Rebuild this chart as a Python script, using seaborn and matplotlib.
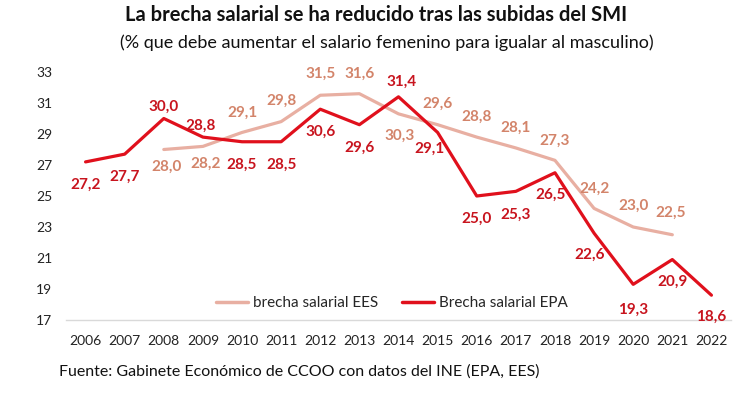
import matplotlib
matplotlib.use("Agg")
import matplotlib.pyplot as plt
import seaborn as sns
import pandas as pd
import numpy as np
from matplotlib.lines import Line2D

# ---- data ----
years_epa = [2006, 2007, 2008, 2009, 2010, 2011, 2012, 2013, 2014, 2015, 2016, 2017, 2018, 2019, 2020, 2021, 2022]
brecha_epa = [27.2, 27.7, 30.0, 28.8, 28.5, 28.5, 30.6, 29.6, 31.4, 29.1, 25.0, 25.3, 26.5, 22.6, 19.3, 20.9, 18.6]
years_ees = [2008, 2009, 2010, 2011, 2012, 2013, 2014, 2015, 2016, 2017, 2018, 2019, 2020, 2021]
brecha_ees = [28.0, 28.2, 29.1, 29.8, 31.5, 31.6, 30.3, 29.6, 28.8, 28.1, 27.3, 24.2, 23.0, 22.5]
y_ticks = [17, 19, 21, 23, 25, 27, 29, 31, 33]

title = "La brecha salarial se ha reducido tras las subidas del SMI"
subtitle = "(% que debe aumentar el salario femenino para igualar al masculino)"
source = "Fuente: Gabinete Económico de CCOO con datos del INE (EPA, EES)"
name_ees = "brecha salarial EES"
name_epa = "Brecha salarial EPA"

# label offsets (pixels)
off_epa = [(0, -23), (0, -23), (0, 12), (-2, 11), (0, -23), (0, -23), (0, -23), (0, -23), (3, 15),
           (-8, -16), (0, -23), (0, -23), (-4, -22), (-4, -22), (0, -25), (0, -22), (0, -22)]
off_ees = [(3, -17), (3, -17), (0, 20), (0, 21), (0, 21), (0, 20), (1, -22), (0, 21), (0, 20),
           (0, 20), (0, 20), (0, 20), (0, 21), (-2, 22)]

c_ees_line = "#E8AFA2"
c_ees_text = "#D3846A"
c_epa_line = "#E0101C"
c_epa_text = "#C8141E"

sns.set_theme(style="white")
plt.rcParams["font.family"] = ["Lato", "DejaVu Sans"]

df = pd.concat([
    pd.DataFrame({"year": years_ees, "value": brecha_ees, "serie": name_ees}),
    pd.DataFrame({"year": years_epa, "value": brecha_epa, "serie": name_epa}),
])

fig = plt.figure(figsize=(7.51, 3.99), dpi=100)
W, H = 751, 399
ax = fig.add_axes([66 / W, 79 / H, (731 - 66) / W, (320 - 72) / H])

sns.lineplot(data=df, x="year", y="value", hue="serie",
             palette={name_ees: c_ees_line, name_epa: c_epa_line},
             linewidth=2.3, ax=ax, legend=False, sort=False)

for x, y, (dx, dy) in zip(years_ees, brecha_ees, off_ees):
    ax.annotate(f"{y:.1f}".replace(".", ","), (x, y), xytext=(dx, dy), textcoords="offset pixels",
                ha="center", va="center", color=c_ees_text, fontsize=11, fontweight="bold")
for x, y, (dx, dy) in zip(years_epa, brecha_epa, off_epa):
    ax.annotate(f"{y:.1f}".replace(".", ","), (x, y), xytext=(dx, dy), textcoords="offset pixels",
                ha="center", va="center", color=c_epa_text, fontsize=11, fontweight="bold")

ax.set_xlim(years_epa[0] - 0.5, years_epa[-1] + 0.5)
ax.set_ylim(y_ticks[0], y_ticks[-1])
ax.set_xticks(years_epa)
ax.set_xticklabels([str(y) for y in years_epa])
ax.set_yticks(y_ticks)
ax.set_xlabel("")
ax.set_ylabel("")
ax.tick_params(axis="both", length=0, labelsize=10, colors="#222222")
ax.tick_params(axis="x", pad=11)
ax.tick_params(axis="y", pad=10)
for s in ["top", "right", "left"]:
    ax.spines[s].set_visible(False)
ax.spines["bottom"].set_color("#D9D9D9")
ax.spines["bottom"].set_linewidth(1.0)
ax.grid(False)
ax.set_facecolor("white")

handles = [Line2D([], [], color=c_ees_line, lw=2.5), Line2D([], [], color=c_epa_line, lw=2.5)]
fig.legend(handles, [name_ees, name_epa], loc="center", bbox_to_anchor=(392 / W, 1 - 303 / H),
           ncol=2, frameon=False, fontsize=11, handlelength=2.1, handletextpad=0.3,
           columnspacing=1.6)

fig.text(376 / W, 1 - 15 / H, title, ha="center", va="center", fontsize=14.5, fontweight="bold", color="#111111")
fig.text(387 / W, 1 - 43 / H, subtitle, ha="center", va="center", fontsize=13, color="#111111")
fig.text(59 / W, 1 - 372 / H, source, ha="left", va="center", fontsize=11.5, color="#111111")

fig.savefig("out.png", dpi=100, facecolor="white")
